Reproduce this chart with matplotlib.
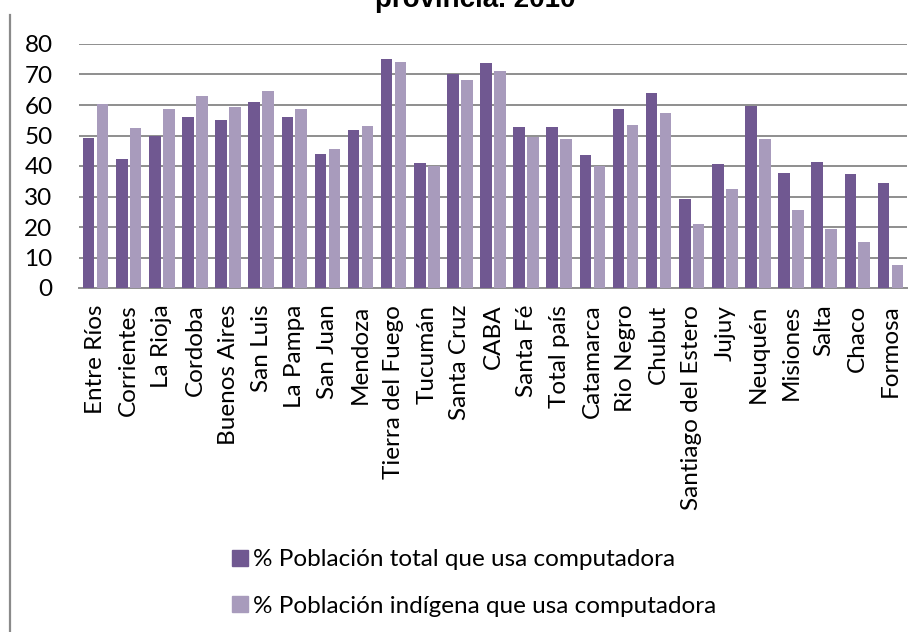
import numpy as np
import matplotlib.pyplot as plt
from matplotlib.patches import Patch

plt.rcParams['font.family'] = ['Lato', 'DejaVu Sans']

provincias = ['Entre Ríos', 'Corrientes', 'La Rioja', 'Cordoba', 'Buenos Aires',
              'San Luis', 'La Pampa', 'San Juan', 'Mendoza', 'Tierra del Fuego',
              'Tucumán', 'Santa Cruz', 'CABA', 'Santa Fé', 'Total país',
              'Catamarca', 'Rio Negro', 'Chubut', 'Santiago del Estero', 'Jujuy',
              'Neuquén', 'Misiones', 'Salta', 'Chaco', 'Formosa']
pob_total = [49.3, 42.3, 49.9, 56.1, 55.1, 61.0, 56.1, 43.9, 51.8, 75.1,
             41.0, 70.2, 73.8, 52.8, 52.8, 43.6, 58.7, 63.9, 29.2, 40.7,
             59.7, 37.7, 41.3, 37.4, 34.4]
pob_indigena = [60.3, 52.5, 58.7, 63.0, 59.3, 64.6, 58.7, 45.6, 53.1, 74.1,
                40.0, 68.2, 71.1, 49.6, 48.9, 40.0, 53.4, 57.4, 21.0, 32.5,
                48.9, 25.6, 19.3, 15.1, 7.5]

c_total = '#705891'
c_indigena = '#a89bbc'
c_grid = '#8e8e8e'
fs = 17.5

fig = plt.figure(figsize=(9.22, 6.32), dpi=100)
ax = fig.add_axes([79 / 922, 1 - 288 / 632, 828 / 922, 244 / 632])

x = np.arange(len(provincias))
w = 0.35
ax.bar(x - 0.21, pob_total, w, color=c_total, zorder=3)
ax.bar(x + 0.21, pob_indigena, w, color=c_indigena, zorder=3)

ax.set_xlim(-0.5, len(provincias) - 0.5)
ax.set_ylim(0, 80)
ax.set_yticks(range(0, 81, 10))
ax.yaxis.grid(True, color=c_grid, lw=1.4, zorder=0)
ax.set_axisbelow(True)
for s in ['top', 'right', 'left']:
    ax.spines[s].set_visible(False)
ax.spines['bottom'].set_color(c_grid)
ax.spines['bottom'].set_linewidth(1.4)

ax.set_xticks(x)
ax.set_xticklabels(provincias, rotation=90, fontsize=fs)
ax.tick_params(axis='x', length=0, pad=12)
ax.tick_params(axis='y', length=0, pad=19, labelsize=fs)

# title (only its last line fits in the frame)
fig.text(0.515, 1 - 7 / 632, 'provincia. 2010', ha='center', va='baseline',
         fontsize=20, fontweight='bold', family='Liberation Sans')

# left edge of the chart frame
fig.add_artist(plt.Line2D([9.5 / 922, 9.5 / 922], [0, 1 - 15 / 632],
                          color='#8a8a8a', lw=1.6))

handles = [Patch(color=c_total), Patch(color=c_indigena)]
labels = ['% Población total que usa computadora',
          '% Población indígena que usa computadora']
fig.legend(handles, labels, loc='upper left',
           bbox_to_anchor=(220 / 922, 1 - 537 / 632), frameon=False,
           fontsize=fs, handlelength=0.65, handleheight=0.65,
           handletextpad=0.2, labelspacing=1.05, borderpad=0)

fig.savefig('out.png', dpi=100)
